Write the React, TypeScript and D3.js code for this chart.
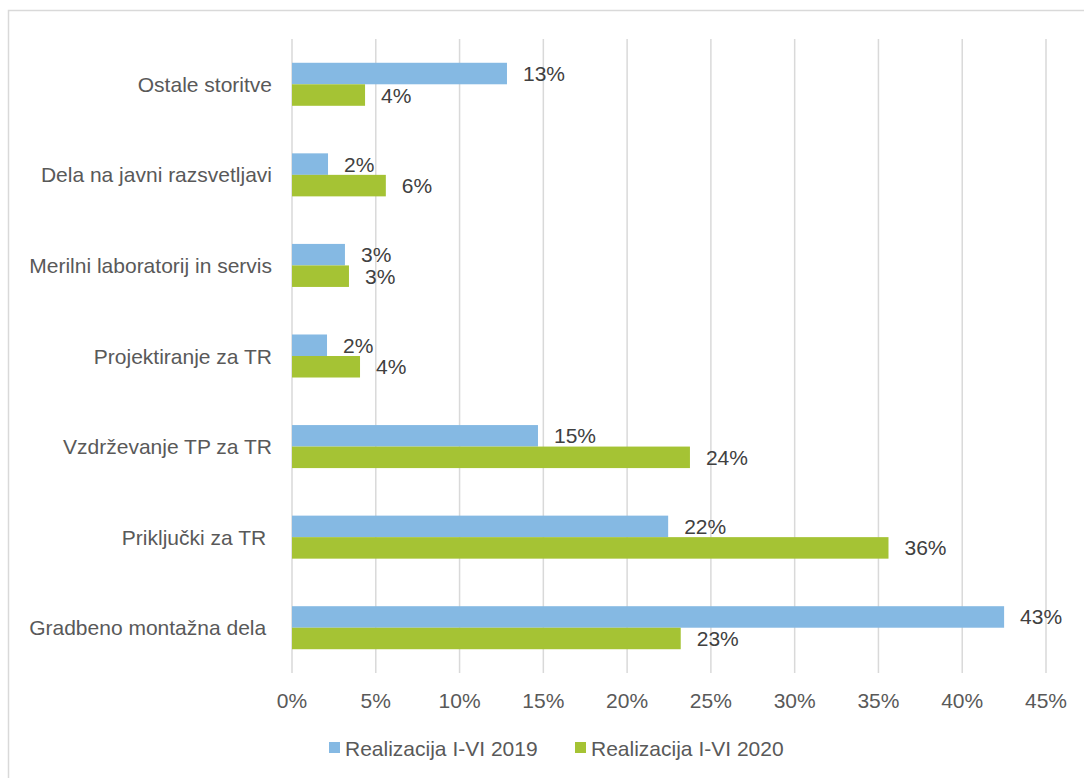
import React from "react";
import * as d3 from "d3";

const categories = [
  "Ostale storitve",
  "Dela na javni razsvetljavi",
  "Merilni laboratorij in servis",
  "Projektiranje za TR",
  "Vzdrževanje TP za TR",
  "Priključki za TR ",
  "Gradbeno montažna dela ",
];
const seriesNames = ["Realizacija I-VI 2019", "Realizacija I-VI 2020"];
const values2019 = [12.83, 2.15, 3.16, 2.09, 14.68, 22.45, 42.5];
const values2020 = [4.36, 5.6, 3.4, 4.06, 23.75, 35.6, 23.2];
const xTicks = [0, 5, 10, 15, 20, 25, 30, 35, 40, 45];
const colors = ["#85B9E3", "#A5C334"];

const W = 1084;
const H = 778;
const FONT = "'Liberation Sans', Arial, sans-serif";
const TEXT = "#595959";
const FS = 21;

export default function App() {
  const x = d3.scaleLinear().domain([0, 45]).range([292, 1046]);
  const y = d3
    .scaleBand<string>()
    .domain(categories)
    .range([39, 673])
    .paddingInner(0.525)
    .paddingOuter(0.2625);
  const ySub = d3.scaleBand<number>().domain([0, 1]).range([0, y.bandwidth()]);
  const seriesVals = [values2019, values2020];

  return (
    <svg
      width={W}
      height={H}
      style={{ position: "absolute", left: 0, top: 0, background: "#fff" }}
      fontFamily={FONT}
    >
      <rect x={8.5} y={10.5} width={1200} height={900} fill="none" stroke="#d9d9d9" strokeWidth={1.5} />
      {xTicks.map((t) => (
        <line key={t} x1={x(t)} x2={x(t)} y1={39} y2={673} stroke="#d9d9d9" strokeWidth={1.5} />
      ))}
      {xTicks.map((t) => (
        <text key={"t" + t} x={x(t)} y={700} textAnchor="middle" dominantBaseline="central" fontSize={FS} fill={TEXT}>
          {t}%
        </text>
      ))}
      {categories.map((c) => (
        <text
          key={"c" + c}
          x={272}
          y={(y(c) as number) + y.bandwidth() / 2}
          textAnchor="end"
          dominantBaseline="central"
          fontSize={FS}
          fill={TEXT}
          style={{ whiteSpace: "pre" }}
        >
          {c}
        </text>
      ))}
      {seriesVals.map((vals, si) =>
        categories.map((c, i) => {
          const by = (y(c) as number) + (ySub(si) as number);
          const bh = ySub.bandwidth();
          return (
            <g key={si + "-" + i}>
              <rect x={x(0)} y={by} width={x(vals[i]) - x(0)} height={bh} fill={colors[si]} />
              <text
                x={x(vals[i]) + 16}
                y={by + bh / 2}
                dominantBaseline="central"
                fontSize={FS}
                fill="#404040"
              >
                {Math.round(vals[i])}%
              </text>
            </g>
          );
        })
      )}
      {seriesNames.map((n, i) => {
        const lx = i === 0 ? 329 : 575;
        return (
          <g key={n}>
            <rect x={lx} y={742} width={11} height={11} fill={colors[i]} />
            <text x={lx + 16} y={748} dominantBaseline="central" fontSize={FS} fill={TEXT}>
              {n}
            </text>
          </g>
        );
      })}
    </svg>
  );
}
